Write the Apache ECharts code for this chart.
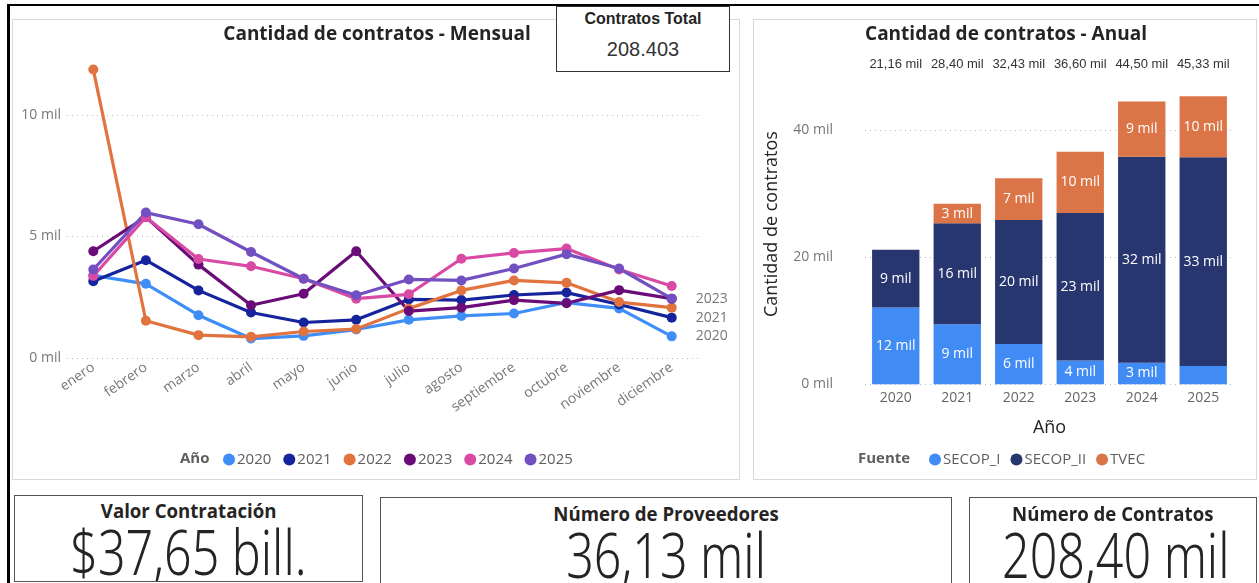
<!DOCTYPE html>
<html><head><meta charset="utf-8">
<script src="https://cdn.jsdelivr.net/npm/echarts@6/dist/echarts.min.js"></script>
<style>
html,body{margin:0;padding:0;background:#fff;width:1259px;height:583px;overflow:hidden;font-family:'Open Sans','Noto Sans',sans-serif;}
.abs{position:absolute;box-sizing:border-box;}
#frame{left:7px;top:4px;width:1270px;height:600px;border-top:2.5px solid #000;border-left:3px solid #000;z-index:0;}
.panel{border:1.5px solid #d9d9d9;background:#fff;z-index:1;}
#chart{left:0;top:0;width:1259px;height:583px;z-index:2;}
.card{border:1.5px solid #555;background:#fff;z-index:3;color:#252423;overflow:hidden;}
.ct{position:absolute;left:0;right:0;text-align:center;white-space:nowrap;}
.ct span{display:inline-block;transform-origin:center;}
.tt{font-family:'Open Sans','Noto Sans',sans-serif;font-weight:700;font-size:19px;line-height:24px;}
.tt span{transform:scaleX(0.98);}
.vv{font-family:'Noto Sans','Open Sans',sans-serif;font-weight:300;font-size:62px;line-height:66px;}
.vv span{transform:scaleX(0.78);}
#tot{left:556px;top:6px;width:174px;height:66px;border:1.5px solid #333;background:#fff;z-index:3;color:#252423;font-family:'Liberation Sans',Arial,sans-serif;text-align:center;}
</style></head>
<body>
<div id="frame" class="abs"></div>
<div class="abs panel" style="left:12px;top:19px;width:728px;height:461px;"></div>
<div class="abs panel" style="left:753px;top:19px;width:504px;height:461px;"></div>
<div id="chart" class="abs"></div>
<div id="tot" class="abs">
  <div style="position:absolute;left:0;right:0;top:2px;font-weight:700;font-size:16px;line-height:20px;">Contratos Total</div>
  <div style="position:absolute;left:0;right:0;top:30px;font-size:20px;line-height:24px;color:#333;">208.403</div>
</div>
<div class="abs card" style="left:14px;top:495px;width:349px;height:87px;">
  <div class="ct tt" style="top:3px;"><span>Valor Contratación</span></div>
  <div class="ct vv" style="top:22px;"><span>$37,65 bill.</span></div>
</div>
<div class="abs card" style="left:380px;top:497px;width:572px;height:87px;">
  <div class="ct tt" style="top:4px;"><span>Número de Proveedores</span></div>
  <div class="ct vv" style="top:23px;"><span>36,13 mil</span></div>
</div>
<div class="abs card" style="left:969px;top:497px;width:288px;height:87px;">
  <div class="ct tt" style="top:4px;"><span>Número de Contratos</span></div>
  <div class="ct vv" style="top:23px;"><span>208,40 mil</span></div>
</div>
<script>
// ---- Monthly chart data ----
const months = ['enero','febrero','marzo','abril','mayo','junio','julio','agosto','septiembre','octubre','noviembre','diciembre'];
const years = ['2020','2021','2022','2023','2024','2025'];
const y2020 = [3400, 3050, 1760, 800, 910, 1170, 1570, 1730, 1830, 2280, 2040, 890];
const y2021 = [3160, 4020, 2780, 1870, 1460, 1570, 2410, 2380, 2590, 2690, 2200, 1660];
const y2022 = [11860, 1530, 940, 870, 1090, 1190, 2030, 2780, 3190, 3090, 2300, 2070];
const y2023 = [4390, 5800, 3840, 2170, 2640, 4390, 1930, 2070, 2380, 2250, 2790, 2440];
const y2024 = [3370, 5790, 4070, 3770, 3260, 2440, 2620, 4080, 4320, 4500, 3640, 2960];
const y2025 = [3640, 5980, 5500, 4360, 3260, 2580, 3230, 3190, 3680, 4270, 3680, 2440];
const yearColors = ['#3F8EF7','#15249C','#E1733F','#6A0C78','#D94AA5','#7250C2'];
const endLabelYears = ['2020','2021','2023'];

// ---- Annual chart data ----
const annualYears = ['2020','2021','2022','2023','2024','2025'];
const fuentes = ['SECOP_I','SECOP_II','TVEC'];
const secopI  = [12100, 9450, 6350, 3750, 3400, 2880];
const secopII = [9060, 15900, 19500, 23200, 32400, 32850];
const tvec    = [0, 3050, 6580, 9650, 8700, 9600];
const fuenteColors = ['#418BF5','#283670','#DB7446'];

const totals = annualYears.map((_, i) => secopI[i] + secopII[i] + tvec[i]);
const fmtMil2 = v => (v/1000).toFixed(2).replace('.', ',') + ' mil';
const fmtAxis = v => (v/1000) + ' mil';

const FONT = "'Open Sans','Noto Sans',sans-serif";
const lineSeriesData = [y2020, y2021, y2022, y2023, y2024, y2025];

const lineSeries = years.map((y, i) => ({
  name: y, type: 'line', xAxisIndex: 0, yAxisIndex: 0,
  data: lineSeriesData[i], symbol: 'circle', symbolSize: 10,
  itemStyle: {color: yearColors[i]},
  lineStyle: {width: 3.2, color: yearColors[i]},
  endLabel: endLabelYears.includes(y) ? {show: true, formatter: '{a}', color: '#777', fontSize: 14, fontFamily: FONT, distance: 24} : {show: false},
  emphasis: {disabled: true}
}));

const barSeriesData = [secopI, secopII, tvec];
const barSeries = fuentes.map((f, i) => ({
  name: f, type: 'bar', stack: 'total', xAxisIndex: 1, yAxisIndex: 1,
  data: barSeriesData[i], barCategoryGap: '23%',
  itemStyle: {color: fuenteColors[i]},
  label: {show: true, position: 'inside', color: '#fff', fontSize: 14, fontFamily: FONT,
    formatter: p => p.value >= 3000 ? Math.round(p.value/1000) + ' mil' : ''},
  emphasis: {disabled: true}
}));

const chart = echarts.init(document.getElementById('chart'), null, {renderer: 'canvas'});
chart.setOption({
  animation: false,
  backgroundColor: 'transparent',
  textStyle: {fontFamily: FONT},
  graphic: [
    {type: 'text', x: 377, y: 35, style: {text: 'Cantidad de contratos - Mensual', font: "bold 19px 'Open Sans'", fill: '#252423', align: 'center', verticalAlign: 'middle'}},
    {type: 'text', x: 1006, y: 35, style: {text: 'Cantidad de contratos - Anual', font: "bold 19px 'Open Sans'", fill: '#252423', align: 'center', verticalAlign: 'middle'}},
    {type: 'text', x: 180, y: 459, style: {text: 'Año', font: "bold 15px 'Open Sans'", fill: '#605E5C', align: 'left', verticalAlign: 'middle'}},
    {type: 'text', x: 858, y: 459, style: {text: 'Fuente', font: "bold 15px 'Open Sans'", fill: '#605E5C', align: 'left', verticalAlign: 'middle'}}
  ],
  legend: [
    {data: years, left: 218, top: 447, icon: 'circle', itemWidth: 12, itemHeight: 12, itemGap: 12,
     textStyle: {fontSize: 15, color: '#605E5C', fontFamily: FONT, padding: [0,0,0,-3]}, selectedMode: false},
    {data: fuentes, left: 924, top: 447, icon: 'circle', itemWidth: 12, itemHeight: 12, itemGap: 10,
     textStyle: {fontSize: 15, color: '#605E5C', fontFamily: FONT, padding: [0,0,0,-3]}, selectedMode: false}
  ],
  grid: [
    {left: 67, top: 54, width: 631, height: 304},
    {left: 865, top: 92, width: 369, height: 292.3}
  ],
  xAxis: [
    {gridIndex: 0, type: 'category', data: months, boundaryGap: true,
     axisLine: {show: false}, axisTick: {show: false},
     axisLabel: {rotate: 35, color: '#777', fontSize: 14, margin: 8, interval: 0}},
    {gridIndex: 1, type: 'category', data: annualYears,
     axisLine: {show: false}, axisTick: {show: false},
     axisLabel: {color: '#666', fontSize: 14, margin: 7},
     name: 'Año', nameLocation: 'middle', nameGap: 35, nameTextStyle: {fontSize: 18, color: '#252423'}},
    {gridIndex: 1, type: 'category', position: 'top', data: totals.map(fmtMil2),
     axisLine: {show: false}, axisTick: {show: false},
     axisLabel: {color: '#333', fontSize: 13, margin: 21, interval: 0, fontFamily: "'Liberation Sans',Arial,sans-serif"}}
  ],
  yAxis: [
    {gridIndex: 0, type: 'value', min: 0, max: 12500, interval: 5000,
     axisLabel: {formatter: fmtAxis, color: '#777', fontSize: 14, margin: 6, showMaxLabel: false},
     splitLine: {showMaxLine: false, lineStyle: {type: [1, 4], color: '#bbb', width: 1}}},
    {gridIndex: 1, type: 'value', min: 0, max: 46000, interval: 20000,
     axisLabel: {formatter: fmtAxis, color: '#777', fontSize: 14, margin: 32, showMaxLabel: false},
     splitLine: {showMaxLine: false, lineStyle: {type: [1, 4], color: '#bbb', width: 1}},
     name: 'Cantidad de contratos', nameLocation: 'middle', nameGap: 84,
     nameTextStyle: {fontSize: 18, color: '#252423', padding: [0, 0, 0, 28]}}
  ],
  series: [...lineSeries, ...barSeries]
});
</script>
</body></html>
